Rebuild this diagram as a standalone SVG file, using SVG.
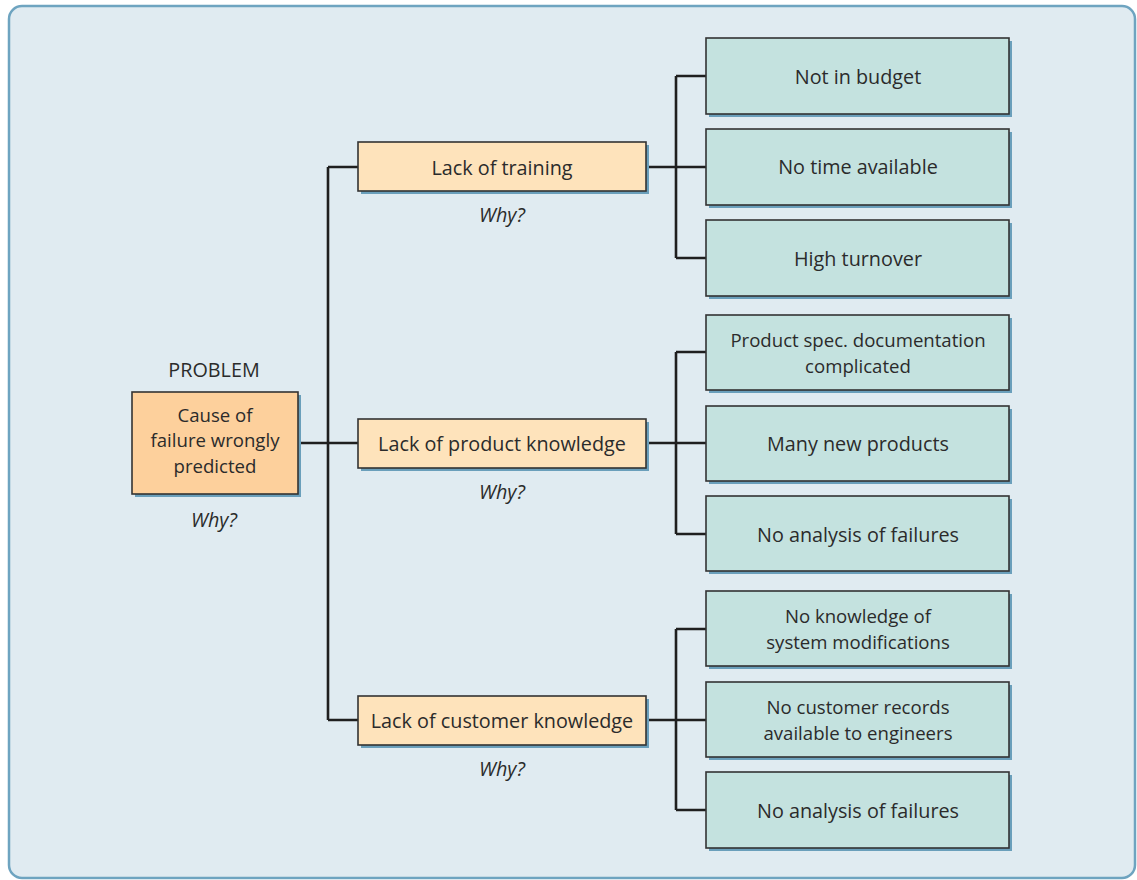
<svg xmlns="http://www.w3.org/2000/svg" width="1137" height="880" viewBox="0 0 1137 880">
<style>
text{font-family:"Open Sans","Noto Sans","Liberation Sans",sans-serif;font-size:19.8px;fill:#2b2b2b;text-anchor:middle}
text.ml{font-size:18.6px}
.why{font-style:italic}
.sh{fill:#6a9fbb}
.box{stroke:#333;stroke-width:1.6}
.r{fill:#c4e2df}
.m{fill:#fee3bb}
.p{fill:#fdd09c}
.c{fill:none;stroke:#1f1f1f;stroke-width:2.6}
</style>
<rect x="9" y="6" width="1126" height="872" rx="13" fill="#e0ebf1" stroke="#6ea4c0" stroke-width="2.5"/>
<g id="connectors">
<path class="c" d="M298 443H358M328 167V720M328 167H358M328 720H358"/>
<path class="c" d="M646 167H706M676 76V258M676 76H706M676 258H706"/>
<path class="c" d="M646 443H706M676 352V534M676 352H706M676 534H706"/>
<path class="c" d="M646 720H706M676 629V810M676 629H706M676 810H706"/>
</g>
<g id="problem">
<text x="214" y="377">PROBLEM</text>
<rect class="sh" x="135" y="395" width="166" height="102"/>
<rect class="box p" x="132" y="392" width="166" height="102"/>
<text class="ml" x="215" y="421.5">Cause of</text>
<text class="ml" x="215" y="447">failure wrongly</text>
<text class="ml" x="215" y="472.5">predicted</text>
<text class="why" x="214" y="527">Why?</text>
</g>
<g id="training">
<rect class="sh" x="361" y="145" width="288" height="49"/>
<rect class="box m" x="358" y="142" width="288" height="49"/>
<text x="502" y="175">Lack of training</text>
<text class="why" x="502" y="222">Why?</text>
</g>
<g id="product">
<rect class="sh" x="361" y="422" width="288" height="49"/>
<rect class="box m" x="358" y="419" width="288" height="49"/>
<text x="502" y="451">Lack of product knowledge</text>
<text class="why" x="502" y="499">Why?</text>
</g>
<g id="customer">
<rect class="sh" x="361" y="699" width="288" height="49"/>
<rect class="box m" x="358" y="696" width="288" height="49"/>
<text x="502" y="728">Lack of customer knowledge</text>
<text class="why" x="502" y="776">Why?</text>
</g>
<g id="budget">
<rect class="sh" x="709" y="41" width="303" height="76"/>
<rect class="box r" x="706" y="38" width="303" height="76"/>
<text x="858" y="84">Not in budget</text>
</g>
<g id="time">
<rect class="sh" x="709" y="132" width="303" height="76"/>
<rect class="box r" x="706" y="129" width="303" height="76"/>
<text x="858" y="174">No time available</text>
</g>
<g id="turnover">
<rect class="sh" x="709" y="223" width="303" height="76"/>
<rect class="box r" x="706" y="220" width="303" height="76"/>
<text x="858" y="266">High turnover</text>
</g>
<g id="spec">
<rect class="sh" x="709" y="318" width="303" height="75"/>
<rect class="box r" x="706" y="315" width="303" height="75"/>
<text class="ml" x="858" y="347.3">Product spec. documentation</text>
<text class="ml" x="858" y="372.7">complicated</text>
</g>
<g id="newproducts">
<rect class="sh" x="709" y="409" width="303" height="75"/>
<rect class="box r" x="706" y="406" width="303" height="75"/>
<text x="858" y="451">Many new products</text>
</g>
<g id="analysis1">
<rect class="sh" x="709" y="499" width="303" height="75"/>
<rect class="box r" x="706" y="496" width="303" height="75"/>
<text x="858" y="542">No analysis of failures</text>
</g>
<g id="modifications">
<rect class="sh" x="709" y="594" width="303" height="75"/>
<rect class="box r" x="706" y="591" width="303" height="75"/>
<text class="ml" x="858" y="623.3">No knowledge of</text>
<text class="ml" x="858" y="648.7">system modifications</text>
</g>
<g id="records">
<rect class="sh" x="709" y="685" width="303" height="75"/>
<rect class="box r" x="706" y="682" width="303" height="75"/>
<text class="ml" x="858" y="714.3">No customer records</text>
<text class="ml" x="858" y="739.7">available to engineers</text>
</g>
<g id="analysis2">
<rect class="sh" x="709" y="775" width="303" height="76"/>
<rect class="box r" x="706" y="772" width="303" height="76"/>
<text x="858" y="818">No analysis of failures</text>
</g>
</svg>
